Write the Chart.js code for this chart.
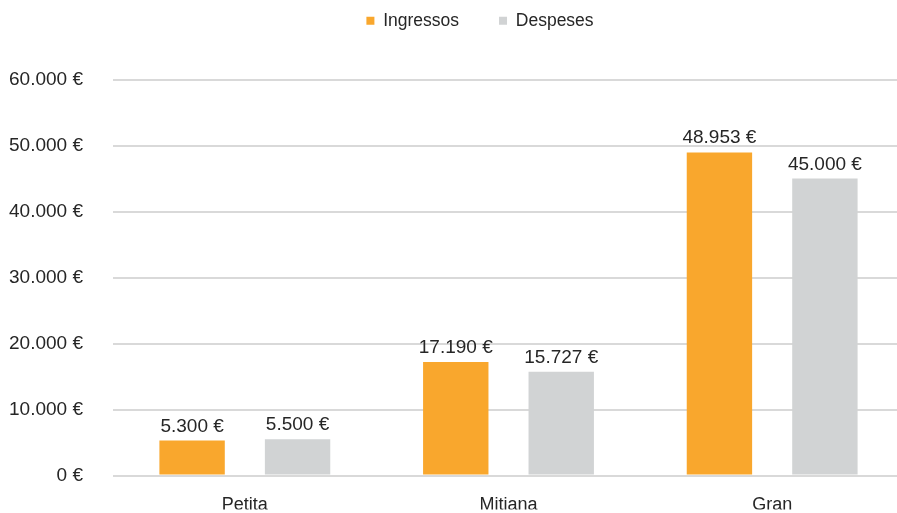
<!DOCTYPE html>
<html>
<head>
<meta charset="utf-8">
<script src="https://cdn.jsdelivr.net/npm/chart.js@4/dist/chart.umd.min.js"></script>
<style>
  html, body { margin: 0; padding: 0; background: #fff; }
  #wrap { width: 897px; height: 513px; overflow: hidden; }
</style>
</head>
<body>
<!-- el llenç és una mica més gran: a l'original l'àrea del gràfic arriba fins a les vores -->
<div id="wrap"><canvas id="graficIngressos" width="904" height="517"></canvas></div>
<script>
// dades
var categories = ["Petita", "Mitjana", "Gran"];
var ingressos = [5300, 17190, 48953];
var despeses = [5500, 15727, 45000];
var colorIngressos = "#F9A72D";
var colorDespeses = "#D1D3D4";
var font = "'Liberation Sans', Arial, sans-serif";

// format 12345 -> "12.345 €"
function euros(v) {
  return String(Math.round(v)).replace(/\B(?=(\d{3})+(?!\d))/g, ".") + " €";
}

// etiquetes damunt de cada barra
var etiquetesBarres = {
  id: "etiquetesBarres",
  afterDatasetsDraw: function (chart) {
    var ctx = chart.ctx;
    ctx.save();
    ctx.font = "19px " + font;
    ctx.fillStyle = "#262626";
    ctx.textAlign = "center";
    ctx.textBaseline = "alphabetic";
    chart.data.datasets.forEach(function (ds, i) {
      chart.getDatasetMeta(i).data.forEach(function (bar, j) {
        ctx.fillText(euros(ds.data[j]), bar.x, bar.y - 9);
      });
    });
    ctx.restore();
  },
};

// la llegenda de l'original va més amunt i una mica a la dreta
var moureLlegenda = {
  id: "moureLlegenda",
  afterLayout: function (chart) {
    var l = chart.legend;
    l.left += 28;
    l.right += 28;
    l.top -= 40;
    l.bottom -= 40;
  },
};

var ctx = document.getElementById("graficIngressos").getContext("2d");
new Chart(ctx, {
  type: "bar",
  data: {
    labels: categories,
    datasets: [
      {
        label: "Ingressos",
        data: ingressos,
        backgroundColor: colorIngressos,
        categoryPercentage: 0.8,
        barPercentage: 0.62,
      },
      {
        label: "Despeses",
        data: despeses,
        backgroundColor: colorDespeses,
        categoryPercentage: 0.8,
        barPercentage: 0.62,
      },
    ],
  },
  options: {
    responsive: false,
    animation: false,
    layout: { padding: { top: 12, right: 0, bottom: 0, left: 0 } },
    plugins: {
      legend: {
        position: "top",
        labels: {
          boxWidth: 8,
          boxHeight: 8,
          padding: 40,
          color: "#262626",
          font: { size: 17.5, family: font },
        },
      },
      tooltip: { enabled: false },
    },
    scales: {
      x: {
        grid: { display: false, drawTicks: false },
        border: { display: false },
        afterFit: function (scale) {
          scale.height = 34;
        },
        ticks: {
          padding: 19,
          color: "#262626",
          font: { size: 18, family: font },
        },
      },
      y: {
        min: 0,
        max: 60000,
        border: { display: false },
        grid: { color: "#D9D9D9", lineWidth: 2, drawTicks: false },
        afterFit: function (scale) {
          scale.width = 113;
        },
        ticks: {
          stepSize: 10000,
          padding: 30,
          color: "#262626",
          font: { size: 19, family: font },
          callback: function (v) {
            return euros(v);
          },
        },
      },
    },
  },
  plugins: [etiquetesBarres, moureLlegenda],
});
</script>
</body>
</html>
